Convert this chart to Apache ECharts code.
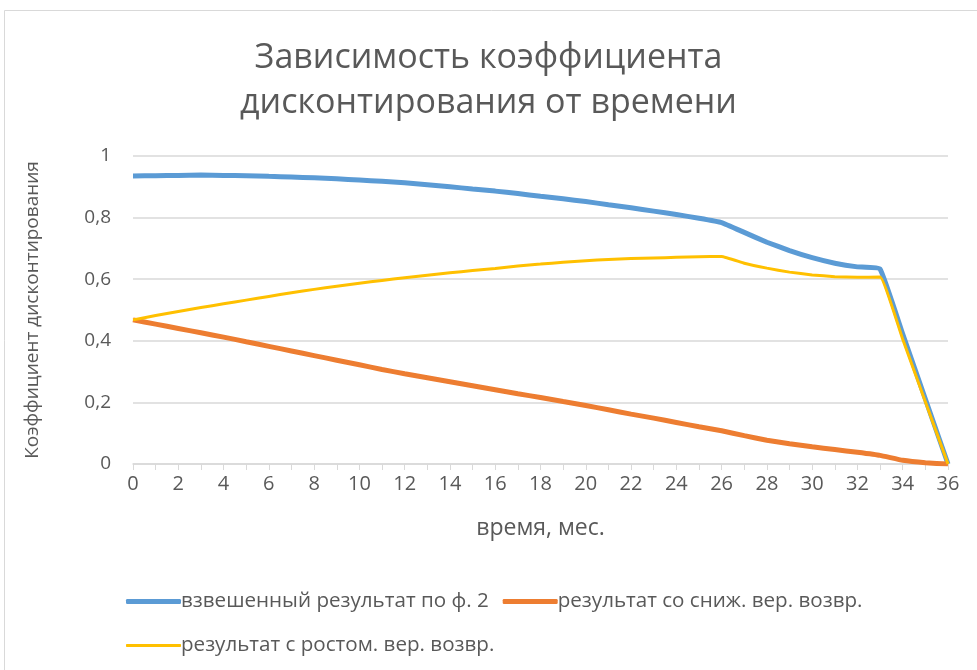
<!DOCTYPE html>
<html><head><meta charset="utf-8">
<script src="https://cdn.jsdelivr.net/npm/echarts@6/dist/echarts.min.js"></script>
<style>html,body{margin:0;padding:0;background:#fff}#c{width:977px;height:670px}</style>
</head><body><div id="c"></div>
<script>
const months = Array.from({length:37},(_,i)=>String(i));
const seriesNames = ['взвешенный результат по ф. 2','результат со сниж. вер. возвр.','результат с ростом. вер. возвр.'];
const weighted = [0.935,0.936,0.937,0.938,0.937,0.936,0.934,0.932,0.929,0.926,0.922,0.918,0.913,0.907,0.900,0.893,0.886,0.878,0.869,0.861,0.852,0.842,0.832,0.821,0.810,0.798,0.784,0.752,0.720,0.693,0.670,0.652,0.640,0.633,0.422,0.211,0];
const decreasing = [0.468,0.454,0.440,0.426,0.412,0.397,0.382,0.367,0.352,0.337,0.322,0.307,0.293,0.280,0.267,0.254,0.241,0.228,0.216,0.203,0.190,0.176,0.162,0.149,0.135,0.121,0.108,0.092,0.077,0.066,0.056,0.047,0.038,0.028,0.012,0.004,0];
const increasing = [0.468,0.482,0.495,0.508,0.520,0.532,0.544,0.556,0.567,0.577,0.587,0.596,0.605,0.613,0.621,0.628,0.635,0.643,0.649,0.655,0.660,0.664,0.667,0.669,0.671,0.673,0.674,0.652,0.636,0.623,0.614,0.608,0.606,0.607,0.405,0.202,0];
const titleText = 'Зависимость коэффициента\nдисконтирования от времени';
const xName = 'время, мес.';
const yName = 'Коэффициент дисконтирования';

const font = '"Open Sans", sans-serif';
const txt = '#595959';
const chart = echarts.init(document.getElementById('c'));
chart.setOption({
  animation:false,
  backgroundColor:'#fff',
  title:{text:titleText,left:'center',top:31,textStyle:{fontFamily:font,fontWeight:'normal',fontSize:34,color:txt,lineHeight:45}},
  grid:{left:133,right:29,top:156,bottom:206,containLabel:false},
  legend:[
    {data:[seriesNames[0],seriesNames[1]],left:121,top:586,itemWidth:55,itemHeight:5,itemGap:14,icon:'roundRect',textStyle:{fontFamily:font,fontSize:20.6,color:txt,padding:[0,0,0,-5]}},
    {data:[seriesNames[2]],left:121,top:630,itemWidth:55,itemHeight:3,icon:'roundRect',textStyle:{fontFamily:font,fontSize:20.6,color:txt,padding:[0,0,0,-5]}}
  ],
  xAxis:{type:'category',data:months,boundaryGap:false,name:xName,nameLocation:'middle',nameGap:53,
    nameTextStyle:{fontFamily:font,fontSize:23,color:txt},
    axisLine:{lineStyle:{color:'#d9d9d9',width:1.5}},
    axisTick:{show:true,interval:0,length:6,lineStyle:{color:'#d9d9d9'}},
    axisLabel:{interval:1,fontFamily:font,fontSize:20,color:txt,margin:10}},
  yAxis:{type:'value',min:0,max:1,interval:0.2,name:yName,nameLocation:'middle',nameGap:91,
    nameTextStyle:{fontFamily:font,fontSize:19,color:txt},
    axisLine:{show:false},axisTick:{show:false},
    splitLine:{lineStyle:{color:'#d9d9d9',width:1.5}},
    axisLabel:{fontFamily:font,fontSize:19,color:txt,margin:22,formatter:v=>String(Math.round(v*10)/10).replace('.',',')}},
  series:[
    {name:seriesNames[0],type:'line',data:weighted,smooth:0.1,showSymbol:false,lineStyle:{color:'#5B9BD5',width:5},itemStyle:{color:'#5B9BD5'},z:2},
    {name:seriesNames[1],type:'line',data:decreasing,smooth:0.1,showSymbol:false,lineStyle:{color:'#ED7D31',width:5},itemStyle:{color:'#ED7D31'},z:3},
    {name:seriesNames[2],type:'line',data:increasing,smooth:0.1,showSymbol:false,lineStyle:{color:'#FFC000',width:3},itemStyle:{color:'#FFC000'},z:4}
  ],
  graphic:[{type:'rect',shape:{x:4.5,y:10.5,width:990,height:700},style:{fill:'none',stroke:'#d9d9d9',lineWidth:1},silent:true}]
});
</script></body></html>
